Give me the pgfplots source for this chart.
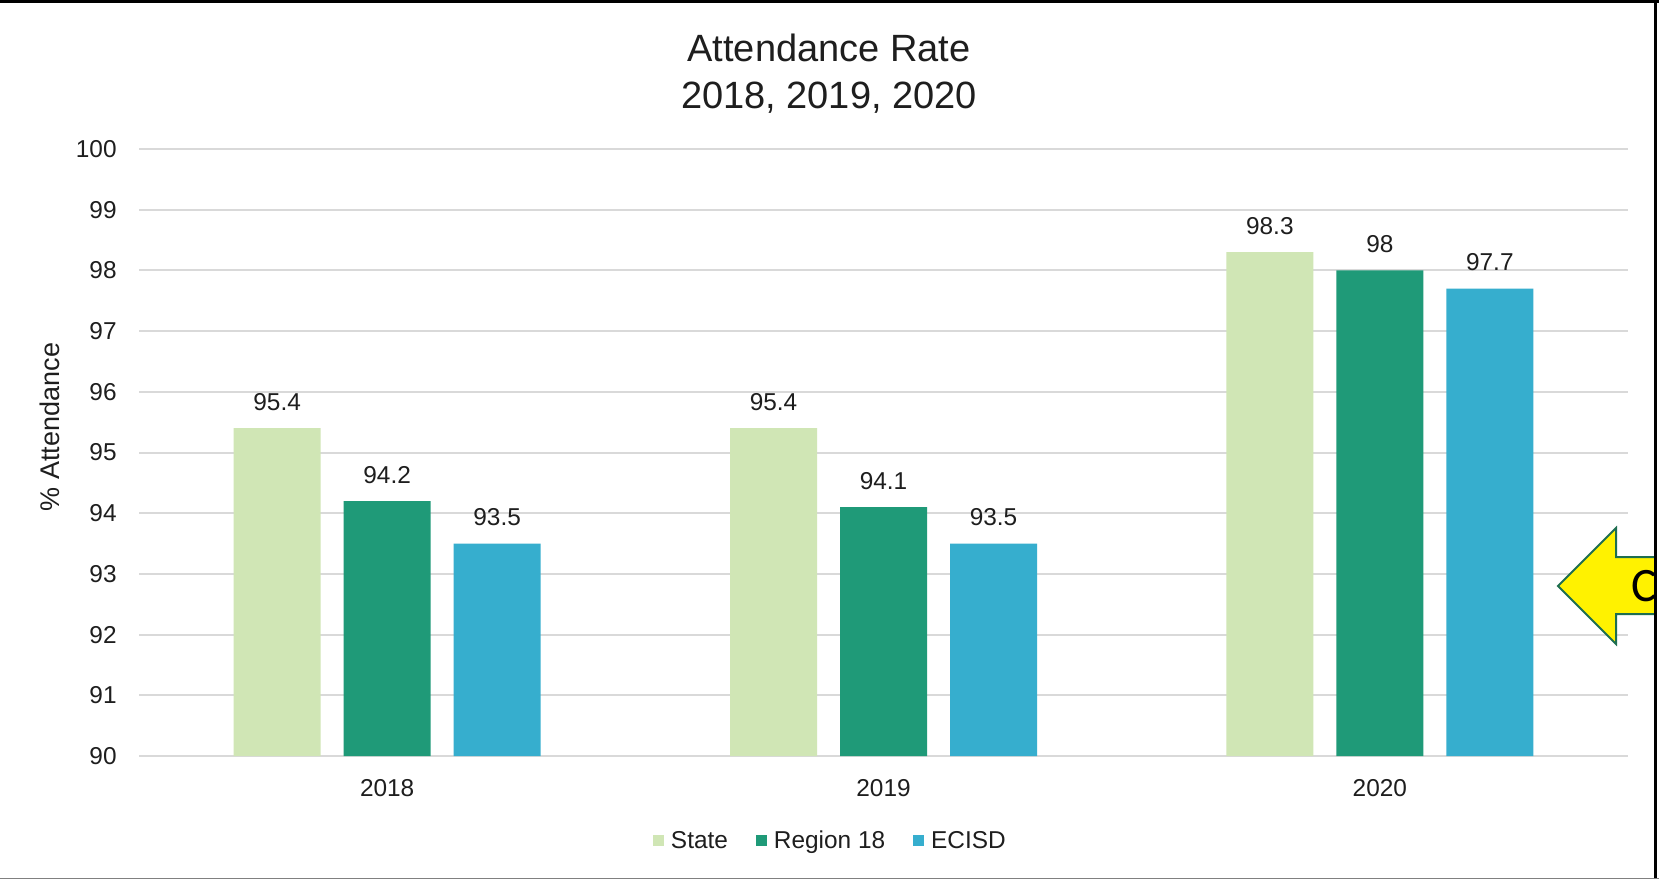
\documentclass[border=0pt]{standalone}
\usepackage{pgfplots}
\pgfplotsset{compat=1.18}
\usepackage{fontspec}
\setmainfont{Liberation Sans}
\newfontfamily\calibri{Carlito}
\definecolor{cState}{RGB}{208,230,181}
\definecolor{cRegion}{RGB}{31,154,120}
\definecolor{cECISD}{RGB}{54,174,206}
\definecolor{gridgray}{RGB}{217,217,217}
\definecolor{textgray}{RGB}{30,30,30}
\definecolor{arrowline}{RGB}{30,110,80}
\begin{document}
\begin{tikzpicture}[x=0.5pt,y=0.5pt]
\useasboundingbox (0,0) rectangle (1659,879);
\fill[white] (0,0) rectangle (1659,879);
\begin{axis}[
  at={(69.5pt,61.5pt)}, anchor=south west,
  width=744.5pt, height=303.5pt, scale only axis,
  ymin=90, ymax=100, ytick={90,91,...,100},
  xmin=-0.5, xmax=2.5, xtick={0,1,2}, xticklabels={2018,2019,2020},
  ybar=11.5pt, bar width=43.5pt,
  axis line style={draw=none}, major tick length=0pt,
  ymajorgrids, grid style={line width=1pt, color=gridgray},
  /pgf/number format/assume math mode=true,
  ticklabel style={font=\fontsize{12.2}{14}\selectfont, text=textgray},
  yticklabel style={anchor=east, inner sep=0pt, xshift=-11pt},
  xticklabel style={anchor=north, inner sep=0pt, yshift=-11.6pt},
  nodes near coords,
  nodes near coords style={font=\fontsize{12.2}{14}\selectfont, text=textgray, anchor=south, inner sep=0pt, yshift=8.5pt},
  legend style={at={(0.465,-0.14)}, anchor=center, draw=none, fill=none,
    legend columns=3, font=\fontsize{12.2}{14}\selectfont, text=textgray,
    /tikz/every even column/.append style={column sep=12pt},
    /tikz/every odd column/.append style={column sep=1.5pt}},
  legend image code/.code={\fill[#1,draw=none] (0pt,-2.75pt) rectangle (5.5pt,2.75pt);},
]
\addplot[fill=cState, draw=none] coordinates {(0,95.4) (1,95.4) (2,98.3)};
\addplot[fill=cRegion, draw=none] coordinates {(0,94.2) (1,94.1) (2,98)};
\addplot[fill=cECISD, draw=none] coordinates {(0,93.5) (1,93.5) (2,97.7)};
\legend{State, Region 18, ECISD}
\end{axis}
\node[text=textgray, align=center, font=\fontsize{19}{23.5}\selectfont] at (829,805) {Attendance Rate\\2018, 2019, 2020};
\node[text=textgray, rotate=90, font=\fontsize{13.5}{16}\selectfont] at (50,452) {\% Attendance};
\begin{scope}
\clip (0,0) rectangle (1655,879);
\draw[fill=yellow, draw=arrowline, line width=1pt, line join=miter]
  (1558,293) -- (1616,351) -- (1616,322) -- (1680,322) -- (1680,265) -- (1616,265) -- (1616,235) -- cycle;
\node[anchor=west, inner sep=0pt, font=\calibri\fontsize{24}{28}\selectfont] at (1631,293) {C};
\end{scope}
\draw[black, line width=1.5pt] (0,877.5) -- (1659,877.5);
\draw[black, line width=1.5pt] (1655.5,0) -- (1655.5,879);
\draw[gray, line width=0.6pt] (0,0.8) -- (1659,0.8);
\end{tikzpicture}
\end{document}
